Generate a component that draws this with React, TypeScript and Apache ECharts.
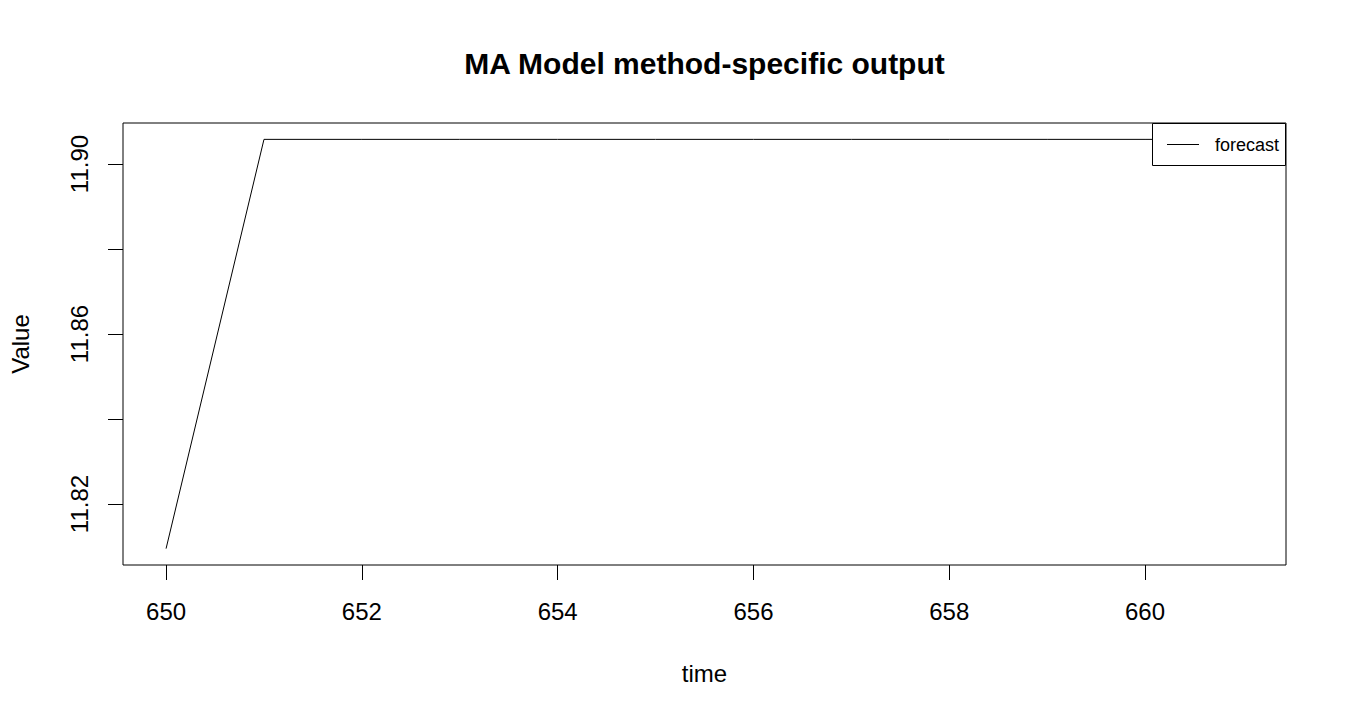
import React, { useEffect, useRef } from 'react';
import * as echarts from 'echarts';

// forecast output, one value per time step
const times = [650, 651, 652, 653, 654, 655, 656, 657, 658, 659, 660, 661];
const forecast = [
  11.8095, 11.9058, 11.9058, 11.9058, 11.9058, 11.9058,
  11.9058, 11.9058, 11.9058, 11.9058, 11.9058, 11.9058,
];
const xTicks = [650, 652, 654, 656, 658, 660];
const yTicks = [11.82, 11.84, 11.86, 11.88, 11.9];
const yLabels = [11.82, 11.86, 11.9];

const FONT = '"Liberation Sans", Arial, sans-serif';

const App: React.FC = () => {
  const chartRef = useRef<HTMLDivElement>(null);

  useEffect(() => {
    document.body.style.margin = '0';
    if (!chartRef.current) return;
    const chart = echarts.init(chartRef.current, undefined, { renderer: 'svg' });

    // R pads the data range by 4% on each side
    const xr = times[times.length - 1] - times[0];
    const yMin = Math.min(...forecast);
    const yMax = Math.max(...forecast);
    const yr = yMax - yMin;

    const option: echarts.EChartsOption = {
      animation: false,
      backgroundColor: '#fff',
      textStyle: { fontFamily: FONT, color: '#000' },
      grid: {
        left: 123,
        top: 123,
        right: 64,
        bottom: 155,
        show: true,
        borderColor: '#000',
        borderWidth: 1,
        backgroundColor: 'transparent',
        containLabel: false,
      },
      xAxis: {
        type: 'value',
        min: times[0] - xr * 0.04,
        max: times[times.length - 1] + xr * 0.04,
        name: 'time',
        nameLocation: 'middle',
        nameGap: 108,
        nameTextStyle: { fontFamily: FONT, fontSize: 24, color: '#000', verticalAlign: 'middle' },
        axisLine: { show: false },
        axisTick: {
          show: true,
          customValues: xTicks,
          length: 15,
          inside: false,
          lineStyle: { color: '#000', width: 1 },
        },
        axisLabel: {
          customValues: xTicks,
          margin: 34,
          fontFamily: FONT,
          fontSize: 24,
          color: '#000',
        },
        splitLine: { show: false },
      },
      yAxis: {
        type: 'value',
        min: yMin - yr * 0.04,
        max: yMax + yr * 0.04,
        name: 'Value',
        nameLocation: 'middle',
        nameGap: 103,
        nameRotate: 90,
        nameTextStyle: { fontFamily: FONT, fontSize: 24, color: '#000', verticalAlign: 'middle' },
        axisLine: { show: false },
        axisTick: {
          show: true,
          customValues: yTicks,
          length: 15,
          inside: false,
          lineStyle: { color: '#000', width: 1 },
        },
        axisLabel: {
          customValues: yLabels,
          rotate: 90,
          margin: 32,
          fontFamily: FONT,
          fontSize: 24,
          color: '#000',
          formatter: (v: number) => v.toFixed(2),
        },
        splitLine: { show: false },
      },
      series: [
        {
          name: 'forecast',
          type: 'line',
          data: times.map((t, i) => [t, forecast[i]]),
          showSymbol: false,
          symbol: 'none',
          lineStyle: { color: '#000', width: 1 },
          z: 2,
        },
      ],
      graphic: [
        {
          type: 'text',
          x: 704.5,
          y: 63,
          z: 100,
          style: {
            text: 'MA Model method-specific output',
            fontFamily: FONT,
            fontSize: 30,
            fontWeight: 'bold',
            fill: '#000',
            textAlign: 'center',
            textVerticalAlign: 'middle',
            verticalAlign: 'middle',
          },
        },
        {
          type: 'rect',
          z: 100,
          shape: { x: 1152.5, y: 123.5, width: 133, height: 42 },
          style: { fill: '#fff', stroke: '#000', lineWidth: 1 },
        },
        {
          type: 'line',
          z: 101,
          shape: { x1: 1167, y1: 144.5, x2: 1199, y2: 144.5 },
          style: { stroke: '#000', lineWidth: 1 },
        },
        {
          type: 'text',
          z: 101,
          x: 1215,
          y: 145,
          style: {
            text: 'forecast',
            fontFamily: FONT,
            fontSize: 18,
            fill: '#000',
            verticalAlign: 'middle',
          },
        },
      ],
    };

    chart.setOption(option);
    return () => chart.dispose();
  }, []);

  return <div ref={chartRef} style={{ width: 1350, height: 720 }} />;
};

export default App;
